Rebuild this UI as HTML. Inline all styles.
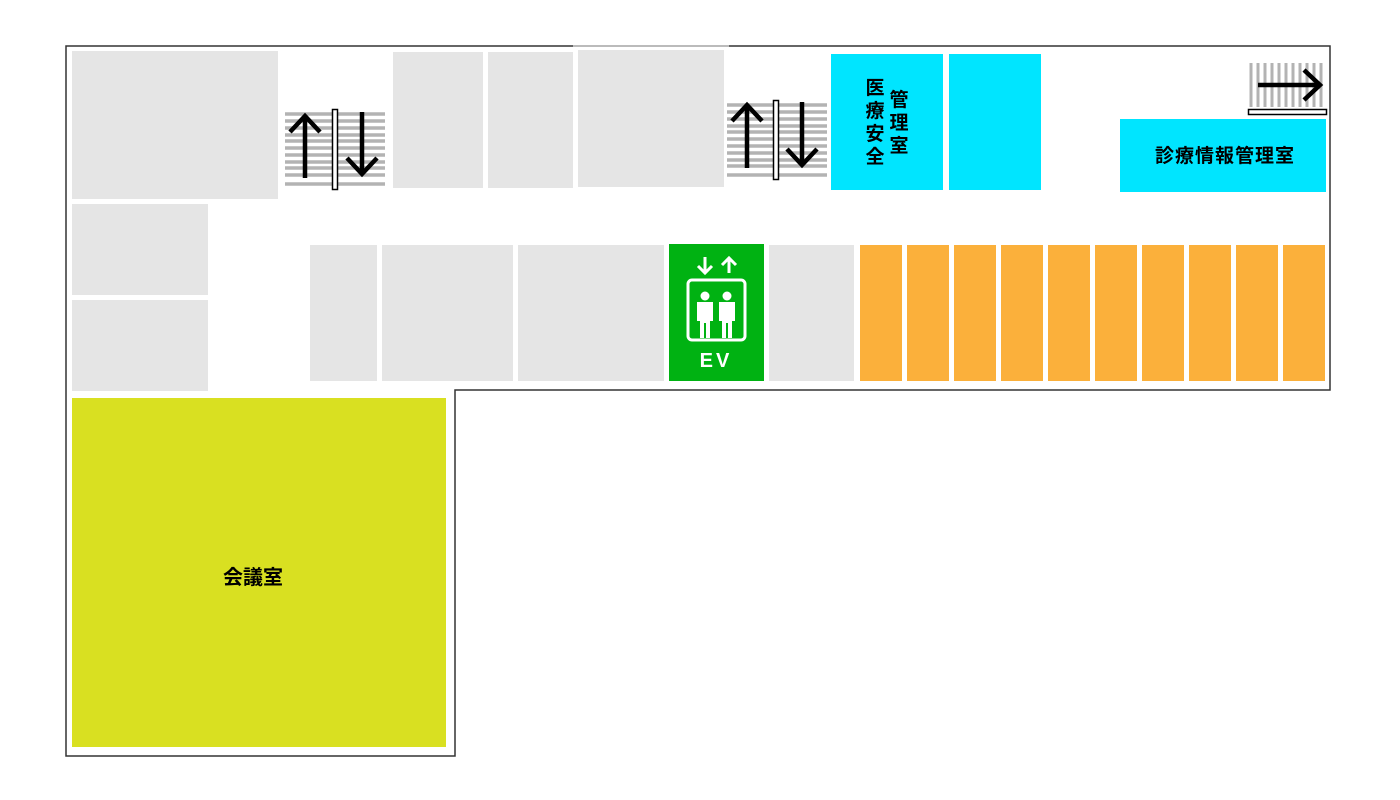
<!DOCTYPE html>
<html><head><meta charset="utf-8"><style>
html,body{margin:0;padding:0;background:#fff;}
svg{display:block;}
text{font-family:"Liberation Sans","Noto Sans CJK JP",sans-serif;font-weight:bold;}
</style></head><body>
<svg width="1400" height="800" viewBox="0 0 1400 800" xmlns="http://www.w3.org/2000/svg">
<rect width="1400" height="800" fill="#fff"/>
<path d="M66,46 H1330 V390 H455 V756 H66 Z" fill="none" stroke="#333" stroke-width="1.5"/>
<line x1="573" y1="46" x2="729" y2="46" stroke="#bbb" stroke-width="2"/>
<g fill="#e5e5e5">
<rect x="72" y="51" width="206" height="148"/>
<rect x="72" y="204" width="136" height="91"/>
<rect x="72" y="300" width="136" height="91"/>
<rect x="393" y="52" width="90" height="136"/>
<rect x="488" y="52" width="85" height="136"/>
<rect x="578" y="50" width="146" height="137"/>
<rect x="310" y="245" width="67" height="136"/>
<rect x="382" y="245" width="131" height="136"/>
<rect x="518" y="245" width="146" height="136"/>
<rect x="769" y="245" width="85" height="136"/>
</g>
<g fill="#fbb03b">
<rect x="860" y="245" width="42" height="136"/>
<rect x="907" y="245" width="42" height="136"/>
<rect x="954" y="245" width="42" height="136"/>
<rect x="1001" y="245" width="42" height="136"/>
<rect x="1048" y="245" width="42" height="136"/>
<rect x="1095" y="245" width="42" height="136"/>
<rect x="1142" y="245" width="42" height="136"/>
<rect x="1189" y="245" width="42" height="136"/>
<rect x="1236" y="245" width="42" height="136"/>
<rect x="1283" y="245" width="42" height="136"/>
</g>
<g fill="#00e5ff">
<rect x="831" y="54" width="112" height="136"/>
<rect x="949" y="54" width="92" height="136"/>
<rect x="1120" y="119" width="206" height="73"/>
</g>
<rect x="72" y="398" width="374" height="349" fill="#d9e021"/>
<text x="253" y="584" font-size="20" text-anchor="middle" fill="#000">会議室</text>
<text x="1225" y="162" font-size="19" text-anchor="middle" fill="#000" letter-spacing="1">診療情報管理室</text>
<g font-size="19" text-anchor="middle" fill="#000">
<text x="875" y="94">医</text><text x="875" y="117">療</text><text x="875" y="140">安</text><text x="875" y="163">全</text>
<text x="899" y="106">管</text><text x="899" y="129">理</text><text x="899" y="152">室</text>
</g>
<g stroke="#b3b3b3" stroke-width="3.5">
<line x1="285" y1="114" x2="385" y2="114"/><line x1="285" y1="121" x2="385" y2="121"/><line x1="285" y1="128" x2="385" y2="128"/><line x1="285" y1="135" x2="385" y2="135"/><line x1="285" y1="141" x2="385" y2="141"/><line x1="285" y1="148" x2="385" y2="148"/><line x1="285" y1="155" x2="385" y2="155"/><line x1="285" y1="162" x2="385" y2="162"/><line x1="285" y1="168" x2="385" y2="168"/><line x1="285" y1="175" x2="385" y2="175"/><line x1="285" y1="184" x2="385" y2="184"/>
</g>
<rect x="332.5" y="109.5" width="5" height="80" fill="#fff" stroke="#000" stroke-width="1.5"/>
<g stroke="#000" stroke-width="4.5" fill="none">
<line x1="305" y1="178" x2="305" y2="116"/><polyline points="290,132 305,116 320,132"/>
<line x1="362" y1="112" x2="362" y2="174"/><polyline points="347,158 362,174 377,158"/>
</g>
<g stroke="#b3b3b3" stroke-width="3.5">
<line x1="727" y1="105" x2="827" y2="105"/><line x1="727" y1="112" x2="827" y2="112"/><line x1="727" y1="119" x2="827" y2="119"/><line x1="727" y1="126" x2="827" y2="126"/><line x1="727" y1="132" x2="827" y2="132"/><line x1="727" y1="139" x2="827" y2="139"/><line x1="727" y1="146" x2="827" y2="146"/><line x1="727" y1="153" x2="827" y2="153"/><line x1="727" y1="160" x2="827" y2="160"/><line x1="727" y1="166" x2="827" y2="166"/><line x1="727" y1="175" x2="827" y2="175"/>
</g>
<rect x="773.5" y="100.5" width="5" height="79" fill="#fff" stroke="#000" stroke-width="1.5"/>
<g stroke="#000" stroke-width="4.5" fill="none">
<line x1="747" y1="168" x2="747" y2="105"/><polyline points="732,121 747,105 762,121"/>
<line x1="802" y1="102" x2="802" y2="165"/><polyline points="787,149 802,165 817,149"/>
</g>
<g stroke="#b3b3b3" stroke-width="3">
<line x1="1251" y1="63" x2="1251" y2="107"/><line x1="1258" y1="63" x2="1258" y2="107"/><line x1="1265" y1="63" x2="1265" y2="107"/><line x1="1272" y1="63" x2="1272" y2="107"/><line x1="1279" y1="63" x2="1279" y2="107"/><line x1="1286" y1="63" x2="1286" y2="107"/><line x1="1293" y1="63" x2="1293" y2="107"/><line x1="1300" y1="63" x2="1300" y2="107"/><line x1="1307" y1="63" x2="1307" y2="107"/><line x1="1314" y1="63" x2="1314" y2="107"/><line x1="1321" y1="63" x2="1321" y2="107"/>
</g>
<rect x="1248.5" y="109.5" width="78" height="5" fill="#fff" stroke="#000" stroke-width="1.5"/>
<g stroke="#000" stroke-width="4.5" fill="none">
<line x1="1258" y1="85" x2="1320" y2="85"/><polyline points="1304,70 1320,85 1304,100"/>
</g>
<rect x="669" y="244" width="95" height="137" fill="#00b212"/>
<g stroke="#fff" stroke-width="3" fill="none">
<line x1="705" y1="257" x2="705" y2="273"/><polyline points="698,266 705,273 712,266"/>
<line x1="729" y1="273" x2="729" y2="258"/><polyline points="722,265 729,258 736,265"/>
<rect x="688" y="280" width="57" height="60" rx="4"/>
</g>
<g fill="#fff">
<circle cx="705" cy="296" r="4.5"/><circle cx="727" cy="296" r="4.5"/>
<path d="M697,302 h16 v19 h-3 v17 h-4 v-15 h-2 v15 h-4 v-17 h-3 z"/>
<path d="M719,302 h16 v19 h-3 v17 h-4 v-15 h-2 v15 h-4 v-17 h-3 z"/>
</g>
<text x="716" y="367" font-size="20" text-anchor="middle" fill="#fff" letter-spacing="3">EV</text>
</svg>
</body></html>
